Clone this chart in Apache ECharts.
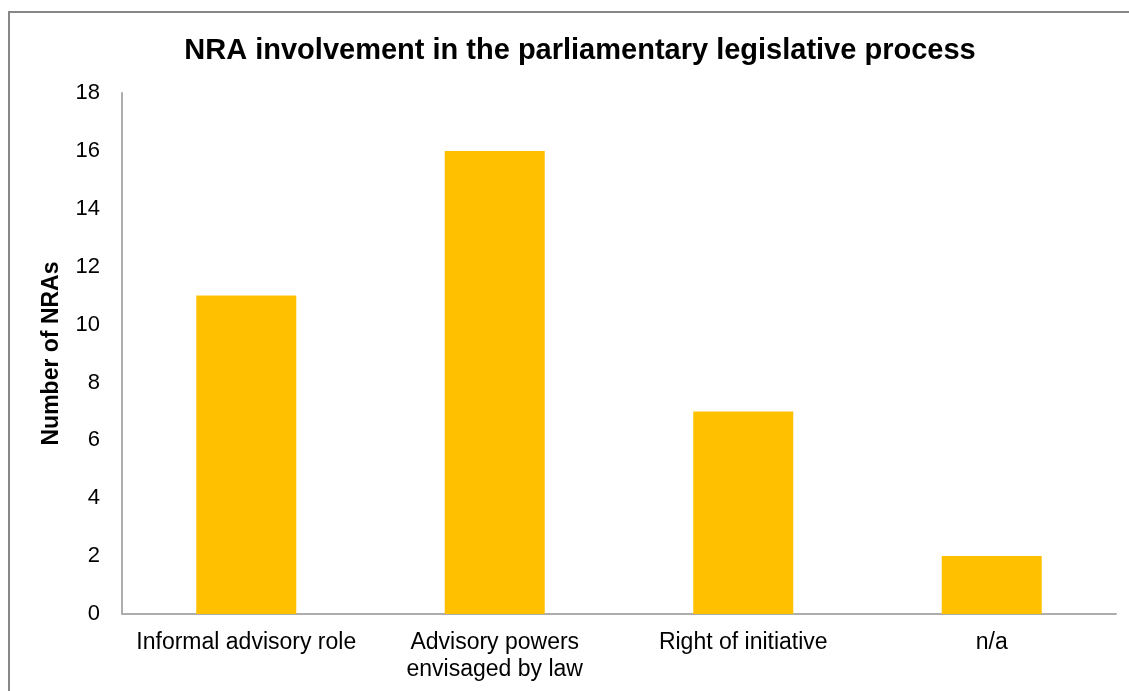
<!DOCTYPE html>
<html>
<head>
<meta charset="utf-8">
<script src="https://cdn.jsdelivr.net/npm/echarts@6/dist/echarts.min.js"></script>
<style>
html,body{margin:0;padding:0;background:#fff;}
#c{width:1129px;height:691px;}
</style>
</head>
<body>
<div id="c"></div>
<script>
const categories = ["Informal advisory role", "Advisory powers\nenvisaged by law", "Right of initiative", "n/a"];
const values = [11, 16, 7, 2];
const yTicks = [0, 2, 4, 6, 8, 10, 12, 14, 16, 18];

const chart = echarts.init(document.getElementById('c'));
chart.setOption({
  animation: false,
  backgroundColor: '#fff',
  title: {
    text: 'NRA involvement in the parliamentary legislative process',
    left: 575, top: 31, textAlign: 'center',
    textStyle: { fontFamily: 'Liberation Sans, Arial', fontSize: 29, fontWeight: 'bold', color: '#000' }
  },
  graphic: [{
    type: 'rect',
    shape: { x: 9, y: 12, width: 1200, height: 800 },
    style: { fill: 'none', stroke: '#878787', lineWidth: 2 },
    silent: true
  }],
  grid: { left: 122, right: 13, top: 93, bottom: 77, containLabel: false },
  xAxis: {
    type: 'category',
    data: categories,
    axisLine: { lineStyle: { color: '#ADADAD', width: 2 } },
    axisTick: { show: false },
    axisLabel: { color: '#000', fontFamily: 'Liberation Sans, Arial', fontSize: 23, margin: 15, lineHeight: 27, interval: 0 }
  },
  yAxis: {
    type: 'value',
    min: yTicks[0], max: yTicks[yTicks.length - 1], interval: 2,
    name: 'Number of NRAs',
    nameLocation: 'middle', nameGap: 59, nameRotate: 90,
    nameTextStyle: { color: '#000', fontFamily: 'Liberation Sans, Arial', fontSize: 23, fontWeight: 'bold' },
    axisLine: { show: true, lineStyle: { color: '#ADADAD', width: 2 } },
    axisTick: { show: false },
    splitLine: { show: false },
    axisLabel: { color: '#000', fontFamily: 'Liberation Sans, Arial', fontSize: 22, margin: 22 }
  },
  series: [{
    type: 'bar',
    data: values,
    barWidth: 100,
    itemStyle: { color: '#FFC000' }
  }]
});
</script>
</body>
</html>
